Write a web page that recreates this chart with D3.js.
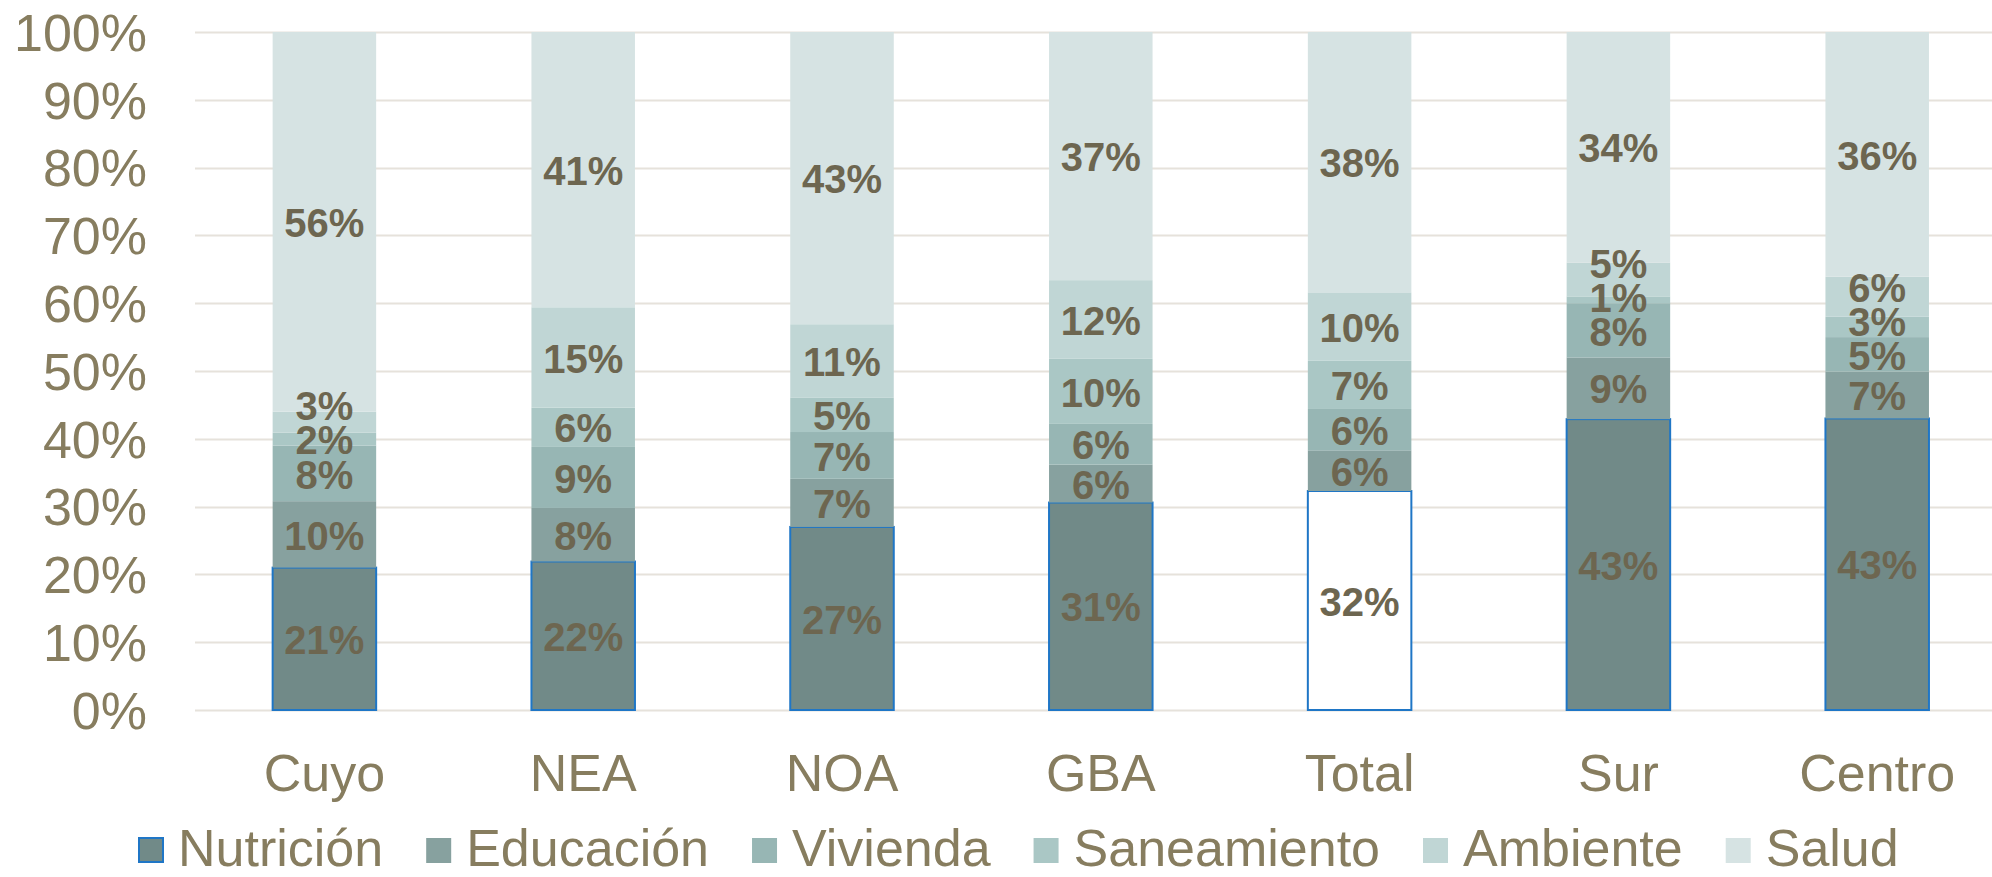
<!DOCTYPE html>
<html lang="es">
<head>
<meta charset="UTF-8">
<title>Distribución por región</title>
<script src="https://cdn.jsdelivr.net/npm/d3@7"></script>
<style>
  body { margin: 0; background: #fff; }
  svg { display: block; font-family: "Liberation Sans", Arial, sans-serif; }
</style>
</head>
<body>
<script>
// datos (porcentajes por región)
const categories = ['Cuyo', 'NEA', 'NOA', 'GBA', 'Total', 'Sur', 'Centro'];
const seriesNames = ['Nutrición', 'Educación', 'Vivienda', 'Saneamiento', 'Ambiente', 'Salud'];

const nutricion   = [21.0, 21.9, 27.0, 30.6, 32.3, 42.9, 43.0];
const educacion   = [9.8, 7.9, 7.1, 5.6, 6.0, 9.1, 6.9];
const vivienda    = [8.2, 9.0, 6.9, 6.0, 6.1, 8.0, 5.1];
const saneamiento = [1.9, 5.8, 5.1, 9.6, 7.1, 1.0, 3.0];
const ambiente    = [3.1, 14.8, 10.8, 11.6, 10.1, 5.0, 5.9];
const salud       = [56.0, 40.6, 43.1, 36.6, 38.4, 34.0, 36.1];

const yTicks = [0, 10, 20, 30, 40, 50, 60, 70, 80, 90, 100];

const colors = ['#718a88', '#87a19f', '#97b6b4', '#aac7c5', '#c0d6d5', '#d6e3e3'];
const borderBlue = '#1f76c6';
const labelColor = '#6d6650';
const axisColor = '#877d5f';
const gridColor = '#e6e2db';

const width = 1992, height = 877;

const seriesValues = [nutricion, educacion, vivienda, saneamiento, ambiente, salud];
const rows = categories.map((c, i) => {
    const r = { cat: c };
    seriesNames.forEach((s, j) => { r[s] = seriesValues[j][i]; });
    return r;
});

const stacked = d3.stack().keys(seriesNames)(rows);

const x = d3.scaleBand()
    .domain(categories)
    .range([195, 195 + 7 * 258.8])
    .paddingInner(0.6)
    .paddingOuter(0.3);

const y = d3.scaleLinear()
    .domain([0, 100])
    .range([710, 32]);

const svg = d3.select('body').append('svg')
    .attr('width', width)
    .attr('height', height);

// lineas de grilla
svg.append('g')
    .selectAll('line')
    .data(yTicks)
    .enter()
    .append('line')
    .attr('x1', 195)
    .attr('x2', width)
    .attr('y1', d => Math.round(y(d)) + 0.5)
    .attr('y2', d => Math.round(y(d)) + 0.5)
    .attr('stroke', gridColor)
    .attr('stroke-width', 2);

// eje y
const yAxis = d3.axisLeft(y)
    .tickValues(yTicks)
    .tickFormat(d => d + '%')
    .tickSize(0)
    .tickPadding(0);

svg.append('g')
    .attr('transform', 'translate(147,0)')
    .call(yAxis)
    .call(g => g.select('.domain').remove())
    .selectAll('text')
    .attr('fill', axisColor)
    .style('font-size', '52px')
    .attr('dy', '0.35em');

// eje x
const xAxis = d3.axisBottom(x).tickSize(0).tickPadding(0);
svg.append('g')
    .attr('transform', 'translate(0,754)')
    .call(xAxis)
    .call(g => g.select('.domain').remove())
    .selectAll('text')
    .attr('fill', axisColor)
    .style('font-size', '52px')
    .attr('dy', '0.71em');

// barras apiladas
const layers = svg.append('g')
    .selectAll('g')
    .data(stacked)
    .enter()
    .append('g');

layers.selectAll('rect')
    .data((s, i) => s.map(d => ({ d, i, cat: d.data.cat })))
    .enter()
    .append('rect')
    .attr('x', p => x(p.cat))
    .attr('width', x.bandwidth())
    .attr('y', p => y(p.d[1]))
    .attr('height', p => y(p.d[0]) - y(p.d[1]))
    .attr('fill', p => (p.i === 0 && p.cat === 'Total') ? '#ffffff' : colors[p.i])
    .attr('stroke', p => p.i === 0 ? borderBlue : 'none')
    .attr('stroke-width', 2);

// etiquetas de datos: centradas en el segmento, empujadas hacia arriba si se pisan
const minGap = 34;
const labels = [];
categories.forEach((c, ci) => {
    let prevY = null;
    stacked.forEach((s, si) => {
        const d = s[ci];
        let ly = y((d[0] + d[1]) / 2);
        if (prevY !== null && prevY - ly < minGap && si < stacked.length - 1) ly = prevY - minGap;
        prevY = ly;
        labels.push({ cat: c, y: ly, v: d[1] - d[0] });
    });
});

svg.append('g')
    .selectAll('text')
    .data(labels)
    .enter()
    .append('text')
    .attr('x', p => x(p.cat) + x.bandwidth() / 2)
    .attr('y', p => p.y)
    .attr('dy', '0.38em')
    .attr('text-anchor', 'middle')
    .attr('fill', labelColor)
    .style('font-size', '40px')
    .style('font-weight', 'bold')
    .text(p => Math.round(p.v) + '%');

// leyenda
const legend = svg.append('g');
let lx = 138;
seriesNames.forEach((name, i) => {
    const item = legend.append('g');
    item.append('rect')
        .attr('x', lx + (i === 0 ? 1 : 0))
        .attr('y', 838)
        .attr('width', i === 0 ? 24 : 25)
        .attr('height', i === 0 ? 24 : 25)
        .attr('fill', colors[i])
        .attr('stroke', i === 0 ? borderBlue : 'none')
        .attr('stroke-width', 2);
    const t = item.append('text')
        .attr('x', lx + 40)
        .attr('y', 866)
        .attr('fill', axisColor)
        .style('font-size', '52px')
        .text(name);
    lx += 40 + t.node().getComputedTextLength() + 43;
});
</script>
</body>
</html>
